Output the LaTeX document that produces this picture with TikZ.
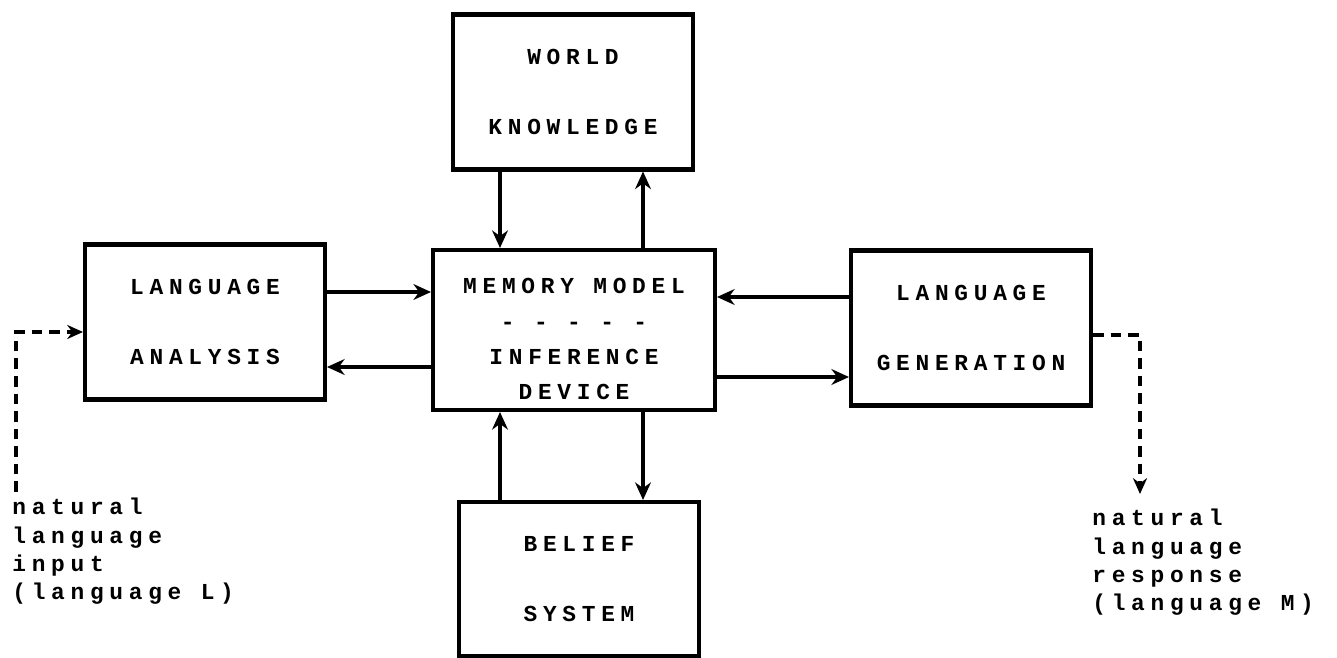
\documentclass[tikz,border=0pt]{standalone}
\usepackage{fontspec}
\newfontfamily\tele[LetterSpace=25]{Liberation Mono}
\usetikzlibrary{arrows.meta}

\tikzset{
  block/.style={draw,line width=2.3pt,inner sep=0pt,minimum width=4.8cm,minimum height=3.1cm,
    align=center,font=\tele\bfseries\fontsize{13}{16}\selectfont},
  link/.style={line width=2pt,-{Stealth[length=10pt,width=9pt]}},
  feed/.style={line width=1.8pt,dash pattern=on 6pt off 4pt,-{Stealth[length=9pt,width=8pt]}},
  note/.style={anchor=north west,inner sep=0pt,align=left,font=\tele\bfseries\fontsize{13}{16}\selectfont}
}

\begin{document}
\begin{tikzpicture}[x=0.02cm,y=-0.02cm]

\useasboundingbox (0,0) rectangle (1337,658);

% the five boxes
\node[block] (world) at (573,92) {WORLD\\[24pt]KNOWLEDGE};
\node[block,minimum width=5.64cm,minimum height=3.2cm,
  font=\tele\bfseries\fontsize{13}{20}\selectfont] (memory) at (574,330)
  {\rule{0pt}{19pt}MEMORY MODEL\\- - - - -\\INFERENCE\\DEVICE};
\node[block] (analysis) at (205,322) {LANGUAGE\\[24pt]ANALYSIS};
\node[block] (generation) at (971,328) {LANGUAGE\\[24pt]GENERATION};
\node[block,minimum height=3.08cm] (belief) at (579,579) {BELIEF\\[24pt]SYSTEM};

% where the arrows meet the boxes
\coordinate (xa) at (500,0);
\coordinate (xb) at (643,0);
\coordinate (ya) at (0,292);
\coordinate (yb) at (0,367);
\coordinate (yc) at (0,297);
\coordinate (yd) at (0,377);

\draw[link] (world.south -| xa) -- (memory.north -| xa);
\draw[link] (memory.north -| xb) -- (world.south -| xb);
\draw[link] (belief.north -| xa) -- (memory.south -| xa);
\draw[link] (memory.south -| xb) -- (belief.north -| xb);

\draw[link] (analysis.east |- ya) -- (memory.west |- ya);
\draw[link] (memory.west |- yb) -- (analysis.east |- yb);
\draw[link] (generation.west |- yc) -- (memory.east |- yc);
\draw[link] (memory.east |- yd) -- (generation.west |- yd);

% input and response
\node[note] (input) at (12,498) {natural\\language\\input\\(language L)};
\node[note] (response) at (1092,509) {natural\\language\\response\\(language M)};

\coordinate (inend) at (16,492);
\coordinate (outend) at (1140,494);
\draw[feed] (inend) |- ([yshift=-0.2cm]analysis.west);
\draw[feed] ([yshift=-0.14cm]generation.east) -| (outend);

\end{tikzpicture}
\end{document}
